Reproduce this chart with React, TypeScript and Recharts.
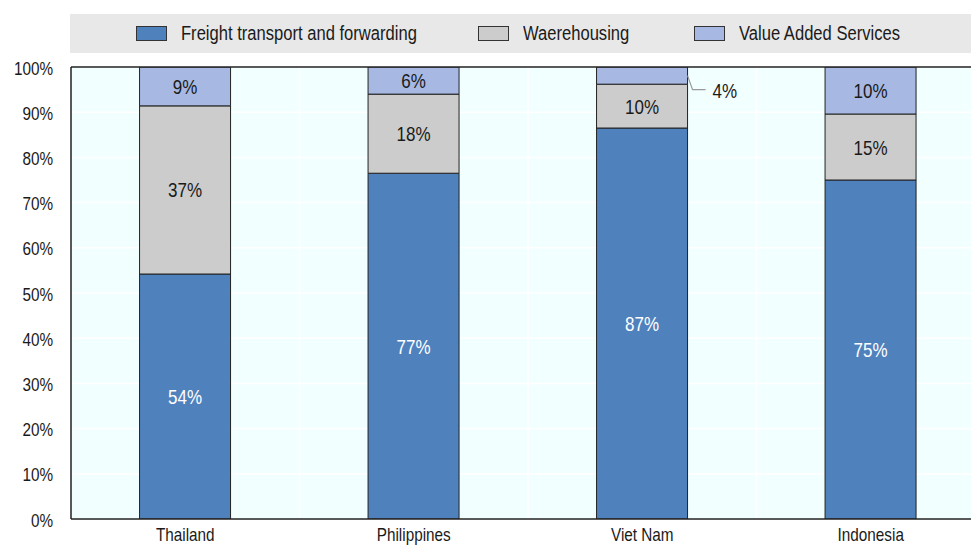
import React from 'react';
import {
  BarChart,
  Bar,
  XAxis,
  YAxis,
  CartesianGrid,
  Legend,
  LabelList,
  ReferenceLine,
} from 'recharts';

const countries = ['Thailand', 'Philippines', 'Viet Nam', 'Indonesia'];
const freight = [54.2, 76.5, 86.5, 75.0];
const warehousing = [37.2, 17.5, 9.7, 14.6];
const valueAdded = [8.6, 6.0, 3.8, 10.4];
const yTicks = [0, 10, 20, 30, 40, 50, 60, 70, 80, 90, 100];

const series = [
  { key: 'freight', name: 'Freight transport and forwarding', color: '#4F81BD', text: '#ffffff' },
  { key: 'warehousing', name: 'Waerehousing', color: '#CCCCCC', text: '#1a1a1a' },
  { key: 'valueAdded', name: 'Value Added Services', color: '#A7B9E3', text: '#1a1a1a' },
];

const data = countries.map((c, i) => ({
  country: c,
  freight: freight[i],
  warehousing: warehousing[i],
  valueAdded: valueAdded[i],
}));

// no narrow face installed, so squeeze Liberation Sans horizontally
const FONT = '"Liberation Sans", Arial, sans-serif';
const SQUEEZE = 0.85;

const NText = ({ x, y, anchor = 'start', size, fill = '#1a1a1a', children }: any) => (
  <text
    transform={`translate(${x},${y}) scale(${SQUEEZE},1)`}
    textAnchor={anchor}
    fontFamily={FONT}
    fontSize={size}
    fill={fill}
  >
    {children}
  </text>
);

// legend item left offsets inside the grey band
const legendLeft = [66, 408, 624];

const LegendBox = () => (
  <div
    style={{
      position: 'relative',
      background: '#E8E8E8',
      height: 39,
      fontFamily: FONT,
      fontSize: 19.5,
      color: '#1a1a1a',
    }}
  >
    {series.map((s, i) => (
      <div
        key={s.key}
        style={{ position: 'absolute', left: legendLeft[i], top: 0, height: 39, display: 'flex', alignItems: 'center' }}
      >
        <span
          style={{
            display: 'inline-block',
            width: 29,
            height: 13,
            background: s.color,
            border: '1px solid #333',
            marginRight: 14,
          }}
        />
        <span style={{ display: 'inline-block', transform: `scaleX(${SQUEEZE})`, transformOrigin: 'left center', whiteSpace: 'nowrap' }}>
          {s.name}
        </span>
      </div>
    ))}
  </div>
);

const makeLabel = (textColor: string) => (props: any) => {
  const { x, y, width, height, value } = props;
  const label = `${Math.round(value)}%`;
  if (value < 5) {
    const x0 = x + width;
    const yMid = y + height / 2;
    return (
      <g>
        <polyline
          points={`${x0},${yMid} ${x0 + 5},${yMid + 14} ${x0 + 18},${yMid + 14}`}
          fill="none"
          stroke="#999"
          strokeWidth={1.2}
        />
        <NText x={x0 + 25} y={yMid + 22} size={20}>
          {label}
        </NText>
      </g>
    );
  }
  return (
    <NText x={x + width / 2} y={y + height / 2 + 7.5} anchor="middle" size={20} fill={textColor}>
      {label}
    </NText>
  );
};

const XTick = (p: any) => (
  <NText x={p.x} y={p.y + 14} anchor="middle" size={18}>
    {p.payload.value}
  </NText>
);

const YTick = (p: any) => (
  <NText x={53} y={p.y + 7.5} anchor="end" size={18}>
    {`${p.payload.value}%`}
  </NText>
);

export default function App() {
  return (
    <div
      style={{
        position: 'absolute',
        left: 0,
        top: 0,
        width: 971,
        height: 545,
        overflow: 'hidden',
        background: '#fff',
      }}
    >
      <BarChart
        width={990}
        height={545}
        data={data}
        margin={{ top: 28, right: 5, left: 0, bottom: 0 }}
        barCategoryGap="30%"
      >
        <CartesianGrid
          fill="#F2FFFF"
          stroke="#ffffff"
          strokeWidth={1.5}
          verticalCoordinatesGenerator={({ offset }: any) =>
            [1, 2, 3].map((i) => offset.left + (i * offset.width) / 4)
          }
        />
        <Legend
          verticalAlign="top"
          content={() => <LegendBox />}
          wrapperStyle={{ top: 14, left: 70, width: 901, height: 39 }}
        />
        <XAxis
          dataKey="country"
          height={26}
          tickLine={false}
          axisLine={{ stroke: '#222', strokeWidth: 1.5 }}
          tick={XTick}
          interval={0}
        />
        <YAxis
          width={71}
          domain={[0, 100]}
          ticks={yTicks}
          tickLine={false}
          axisLine={{ stroke: '#222', strokeWidth: 1.5 }}
          tick={YTick}
          allowDataOverflow
        />
        <ReferenceLine y={100} stroke="#222" strokeWidth={1.5} />
        {series.map((s) => (
          <Bar
            key={s.key}
            dataKey={s.key}
            name={s.name}
            stackId="a"
            fill={s.color}
            stroke="#222"
            strokeWidth={1}
            isAnimationActive={false}
          >
            <LabelList dataKey={s.key} content={makeLabel(s.text)} />
          </Bar>
        ))}
      </BarChart>
    </div>
  );
}
